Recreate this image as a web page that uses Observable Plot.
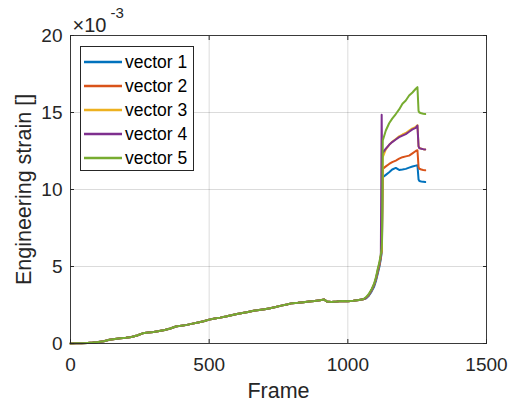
<!DOCTYPE html>
<html><head><meta charset="utf-8">
<script src="https://cdn.jsdelivr.net/npm/d3@7"></script>
<script src="https://cdn.jsdelivr.net/npm/@observablehq/plot@0.6"></script>
<style>
body{margin:0;background:#fff;font-family:"Liberation Sans",Arial,sans-serif;}
#wrap{position:relative;width:511px;height:402px;}
#legend{position:absolute;left:80px;top:46px;width:114px;height:125px;border:1px solid #262626;background:#fff;box-sizing:border-box;}
.row{position:absolute;left:0;height:24px;display:flex;align-items:center;font-size:17.5px;color:#000;}
.row svg{margin-left:3px;margin-right:3px;}
</style></head><body><div id="wrap"></div>
<script>
const vectors = ["vector 1","vector 2","vector 3","vector 4","vector 5"];
const colors = ["#0072BD","#D95319","#EDB120","#7E2F8E","#77AC30"];
const xTicks = [0,500,1000,1500];
const yTicks = [0,5,10,15,20];
const xLabel = "Frame";
const yLabel = "Engineering strain []";
const exponentBase = "\u00d710";
const exponent = "-3";

// shared early part (all five vectors overlap), strain in units of 1e-3
const baseFrames = [0,20,40,60,80,100,120,140,160,180,200,220,240,260,280,300,320,340,360,380,400,420,440,460,480,500,520,540,560,580,600,620,640,660,680,700,720,740,760,780,800,820,840,860,880,900,915,925,940,960,980,1000,1020,1040,1055];
const baseStrain = [0.00,0.01,0.02,0.04,0.06,0.10,0.15,0.24,0.29,0.34,0.37,0.42,0.52,0.66,0.71,0.75,0.81,0.88,0.97,1.10,1.16,1.21,1.29,1.37,1.44,1.55,1.62,1.68,1.75,1.83,1.92,1.98,2.05,2.12,2.17,2.23,2.29,2.37,2.46,2.53,2.62,2.64,2.68,2.72,2.76,2.81,2.85,2.72,2.69,2.72,2.76,2.74,2.78,2.83,2.87];

// individual late part
const tailFrames = [1065,1075,1085,1095,1102,1108,1114,1119,1122,1123,1126,1137,1149,1160,1173,1185,1197,1209,1221,1233,1245,1251,1255,1258,1265,1272,1279];
const v1Tail = [2.92,3.08,3.35,3.70,4.10,4.55,5.00,5.50,5.90,6.20,10.80,10.95,11.12,11.30,11.40,11.27,11.30,11.34,11.42,11.49,11.55,11.58,10.65,10.55,10.52,10.50,10.48];
const v2Tail = [2.95,3.12,3.42,3.80,4.20,4.65,5.10,5.60,6.00,6.30,11.34,11.50,11.66,11.78,11.88,12.00,12.10,12.15,12.20,12.35,12.50,12.55,11.45,11.35,11.30,11.27,11.25];
const v3Tail = [2.95,3.15,3.45,3.85,4.25,4.75,5.20,5.70,6.10,6.40,12.10,12.60,12.90,13.10,13.28,13.45,13.57,13.67,13.82,13.97,14.07,14.17,12.80,12.70,12.65,12.62,12.60];
const v4Tail = [2.95,3.15,3.45,3.85,4.25,4.75,5.20,5.70,14.85,12.60,12.40,12.65,12.90,13.08,13.25,13.40,13.50,13.60,13.75,13.90,14.00,14.15,12.80,12.68,12.65,12.62,12.60];
const v5Tail = [3.00,3.20,3.50,3.90,4.35,4.85,5.30,5.80,6.20,6.60,13.18,13.83,14.30,14.60,14.90,15.20,15.57,15.78,16.10,16.30,16.54,16.65,15.10,15.00,14.95,14.92,14.90];
const tails = [v1Tail,v2Tail,v3Tail,v4Tail,v5Tail];

const rows = [];
vectors.forEach((name, i) => {
  const fr = baseFrames.concat(tailFrames);
  const st = baseStrain.concat(tails[i]);
  fr.forEach((f, j) => rows.push({series: name, frame: f, strain: st[j]}));
});

const font = "Liberation Sans, Arial, Helvetica, sans-serif";
const fmt = d => String(d);
const chart = Plot.plot({
  width: 511, height: 402,
  marginLeft: 70, marginRight: 25, marginTop: 35, marginBottom: 59,
  style: {fontFamily: font, color: "#262626", background: "#fff", overflow: "visible"},
  x: {domain: [0, 1500]},
  y: {domain: [0, 20]},
  color: {domain: vectors, range: colors},
  marks: [
    Plot.gridX(xTicks.slice(1, -1), {stroke: "#000", strokeOpacity: 0.14, strokeWidth: 1}),
    Plot.gridY(yTicks.slice(1, -1), {stroke: "#000", strokeOpacity: 0.14, strokeWidth: 1}),
    Plot.line(rows, {x: "frame", y: "strain", z: "series", stroke: "series", strokeWidth: 2, strokeLinejoin: "round"}),
    Plot.frame({stroke: "#262626", strokeWidth: 0.9}),
    Plot.axisX(xTicks, {anchor: "bottom", tickSize: 0, tickPadding: 14, fontSize: 19, label: null, tickFormat: fmt}),
    Plot.axisX(xTicks, {anchor: "bottom", tickSize: -4, tickFormat: () => "", label: null, stroke: "#262626"}),
    Plot.axisX(xTicks, {anchor: "top", tickSize: -4, tickFormat: () => "", label: null, stroke: "#262626"}),
    Plot.axisY(yTicks, {anchor: "left", tickSize: 0, tickPadding: 8, fontSize: 19, label: null, tickFormat: fmt}),
    Plot.axisY(yTicks, {anchor: "left", tickSize: -4, tickFormat: () => "", label: null, stroke: "#262626"}),
    Plot.axisY(yTicks, {anchor: "right", tickSize: -4, tickFormat: () => "", label: null, stroke: "#262626"}),
    Plot.text([xLabel], {frameAnchor: "bottom", textAnchor: "middle", dy: 48, lineAnchor: "middle", fontSize: 21.5, fill: "#262626"}),
    Plot.text([yLabel], {frameAnchor: "left", textAnchor: "middle", dx: -46, rotate: -90, lineAnchor: "middle", fontSize: 21.5, fill: "#262626"}),
    Plot.text([exponentBase], {frameAnchor: "top-left", textAnchor: "start", lineAnchor: "bottom", dx: 2, dy: -4, fontSize: 20, fill: "#262626"}),
    Plot.text([exponent], {frameAnchor: "top-left", textAnchor: "start", lineAnchor: "bottom", dx: 40, dy: -18, fontSize: 15, fill: "#262626"})
  ]
});
const wrap = document.getElementById("wrap");
wrap.appendChild(chart);

const legend = document.createElement("div");
legend.id = "legend";
vectors.forEach((name, i) => {
  const row = document.createElement("div");
  row.className = "row";
  row.style.top = (3 + i * 24) + "px";
  row.innerHTML = `<svg width="38" height="6"><line x1="0" y1="3" x2="38" y2="3" stroke="${colors[i]}" stroke-width="2.5"/></svg><span>${name}</span>`;
  legend.appendChild(row);
});
wrap.appendChild(legend);
</script></body></html>
